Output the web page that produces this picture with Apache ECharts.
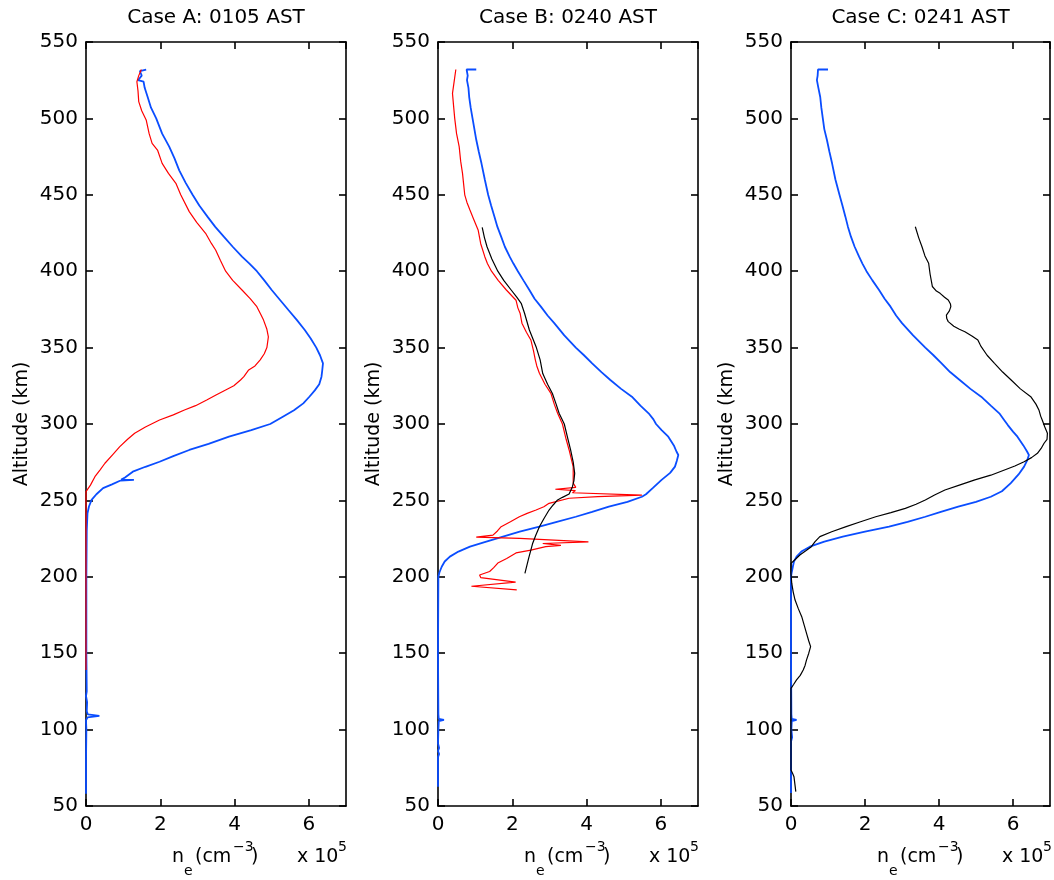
<!DOCTYPE html>
<html>
<head>
<meta charset="utf-8">
<script src="https://cdn.jsdelivr.net/npm/echarts@6/dist/echarts.min.js"></script>
<style>html,body{margin:0;padding:0;background:#fff;}#chart{width:1054px;height:880px;}</style>
</head>
<body>
<div id="chart"></div>
<script>
// ---- data: [altitude km, n_e (x1e5 cm^-3)] ----
const titles = ['Case A: 0105 AST', 'Case B: 0240 AST', 'Case C: 0241 AST'];
const yTicks = [50, 100, 150, 200, 250, 300, 350, 400, 450, 500, 550];
const xTicks = [0, 2, 4, 6];

const caseA_blue = [[532,1.62],[531,1.45],[528,1.5],[525,1.40],[524,1.55],[520,1.58],[514,1.66],[507,1.75],[500,1.89],[490,2.05],[481.5,2.24],[474,2.38],[466,2.51],[458,2.68],[450,2.87],[443,3.05],[435.7,3.27],[429,3.48],[422.6,3.71],[416,3.95],[409.5,4.2],[405,4.4],[400,4.6],[394,4.8],[387.7,5.0],[381,5.23],[374.6,5.45],[368,5.68],[361.5,5.89],[356,6.05],[350,6.2],[345,6.3],[339.7,6.38],[335,6.36],[331,6.34],[326,6.28],[322,6.16],[318,6.02],[313.5,5.85],[309,5.6],[304.8,5.3],[300,4.96],[296,4.45],[291.7,3.85],[287,3.3],[283,2.78],[279,2.35],[275.3,1.98],[272,1.6],[268.8,1.26],[265,1.05],[263.6,0.95],[263.4,1.29],[263,0.93],[260.5,0.7],[258,0.46],[254,0.28],[250.3,0.15],[246,0.08],[241.6,0.04],[230,0.02],[200,0.01],[150,0.01],[125,0.02],[122,0.0],[118,0.03],[112,0.02],[110,0.05],[109,0.36],[108,0.04],[106,0.0],[100,0.01],[80,0.0],[58,0.0]];
const caseA_red = [[532,1.49],[528,1.42],[524,1.37],[518,1.40],[511,1.42],[505,1.5],[499,1.62],[490,1.7],[483.7,1.78],[479,1.93],[470.6,2.05],[464,2.22],[457.5,2.42],[450,2.55],[439,2.78],[432,2.98],[424.8,3.22],[418,3.38],[413.9,3.49],[407,3.62],[400,3.76],[394,3.95],[387.7,4.2],[382,4.42],[376.8,4.6],[372,4.7],[368,4.78],[362,4.87],[357,4.91],[350,4.87],[346,4.8],[342,4.69],[338,4.55],[335.4,4.38],[331,4.25],[328.8,4.16],[325,3.98],[322.3,3.76],[319,3.5],[315.7,3.25],[312,2.95],[309.2,2.65],[306,2.35],[302.6,1.98],[298,1.6],[293.9,1.31],[290,1.12],[285.2,0.91],[280,0.72],[274.3,0.51],[270,0.38],[265.5,0.24],[260,0.12],[255.7,0.0],[250,0.0],[139,0.0]];

const caseB_blue = [[532,1.03],[532,0.77],[528,0.8],[525,0.78],[520,0.82],[514,0.84],[507,0.88],[500,0.93],[493,0.98],[486,1.03],[478,1.1],[470.6,1.17],[460,1.26],[450,1.35],[443,1.43],[435.7,1.52],[429,1.6],[422.6,1.70],[416,1.8],[409.5,1.93],[405,2.03],[400,2.15],[394,2.3],[387.7,2.46],[382,2.6],[376.8,2.77],[371,2.95],[366,3.13],[358,3.4],[350,3.71],[345,3.93],[339.7,4.15],[334,4.4],[328.8,4.64],[323,4.93],[317.9,5.22],[312,5.45],[307,5.67],[303,5.8],[300,5.87],[296,6.02],[291.7,6.2],[286,6.35],[282,6.42],[279.7,6.47],[276,6.43],[272.1,6.38],[268,6.25],[263.4,6.02],[258,5.78],[254,5.6],[252.4,5.49],[249,5.1],[245.9,4.6],[242.5,4.15],[239.3,3.71],[236,3.2],[232.8,2.73],[229.5,2.2],[226.3,1.75],[223,1.3],[219.7,0.86],[216.5,0.55],[213.2,0.32],[210,0.18],[206.6,0.1],[203,0.04],[200,0.01],[150,0.0],[110,0.01],[107,0.02],[106.3,0.16],[105.5,0.02],[100,0.01],[91,0.0],[88,0.03],[86,0.0],[84,0.03],[82,0.0],[62.6,0.0]];
const caseB_red = [[532,0.48],[525,0.44],[516.4,0.39],[508,0.42],[500,0.45],[490,0.5],[481.5,0.57],[472,0.61],[464,0.66],[457,0.69],[450,0.72],[445,0.78],[440,0.86],[434,0.96],[427,1.08],[418,1.15],[409.5,1.26],[405,1.33],[400,1.44],[394,1.62],[387.7,1.84],[381,2.1],[376,2.15],[372.5,2.21],[366,2.26],[360,2.38],[355,2.5],[348,2.57],[342,2.62],[338,2.66],[333.2,2.73],[326,2.88],[320,3.04],[313,3.13],[307,3.22],[300,3.35],[290,3.45],[283,3.53],[272,3.64],[261.3,3.64],[258.5,3.71],[257.3,3.16],[256.4,3.7],[255,3.62],[253.5,5.49],[252.5,4.3],[251.4,3.53],[248.1,2.99],[245.8,2.85],[243.7,2.64],[241.5,2.4],[239.3,2.19],[236,1.95],[232.8,1.7],[230,1.6],[227.3,1.48],[226.0,1.03],[225.2,2.2],[222.9,4.05],[221.8,2.82],[220.6,3.31],[219.8,2.9],[217.5,2.5],[215.6,2.1],[212,1.85],[209,1.61],[206,1.5],[203.5,1.39],[201.2,1.12],[199.5,1.15],[196.5,2.09],[193.8,0.9],[191.4,2.12]];
const caseB_black = [[428.7,1.19],[422,1.25],[416,1.32],[408,1.45],[400,1.61],[394,1.77],[387.7,1.97],[383,2.12],[379,2.24],[372.5,2.33],[361.5,2.46],[350.6,2.64],[342,2.75],[333,2.82],[326,2.95],[320,3.08],[313,3.18],[307,3.26],[300,3.4],[290,3.5],[283,3.57],[275,3.64],[267.7,3.68],[263,3.66],[259,3.62],[254.2,3.53],[252,3.35],[250.3,3.22],[247,3.1],[243.7,2.99],[238,2.85],[232.8,2.73],[227,2.63],[222,2.55],[212,2.44],[202.3,2.34]];

const caseC_blue = [[532,1.0],[532,0.73],[528,0.72],[525,0.70],[520,0.74],[514,0.79],[507,0.82],[500,0.86],[493,0.9],[486,0.97],[478,1.04],[470.6,1.11],[460,1.2],[450,1.31],[443,1.39],[435.7,1.47],[429,1.54],[422.6,1.62],[416,1.72],[409.5,1.84],[405,1.93],[400,2.04],[394,2.2],[387.7,2.38],[382,2.53],[376.8,2.69],[371,2.84],[366,3.0],[358,3.3],[350,3.63],[345,3.85],[339.7,4.07],[334,4.3],[328.8,4.56],[323,4.85],[317.9,5.14],[312,5.4],[307,5.63],[303,5.75],[299.3,5.86],[295,6.0],[291.7,6.12],[286,6.28],[282,6.38],[279.7,6.43],[276,6.38],[272.1,6.3],[267,6.15],[261.3,5.94],[256,5.7],[252.4,5.4],[249,5.0],[245.9,4.52],[242.5,4.05],[239.3,3.63],[236,3.15],[232.8,2.65],[229.5,2.0],[226.3,1.4],[223,0.9],[219.7,0.51],[216.5,0.28],[213.2,0.15],[210,0.08],[206.6,0.05],[203,0.02],[200,0.0],[150,0.0],[110,0.01],[107,0.02],[106.3,0.15],[105.5,0.02],[100,0.01],[95,0.03],[92,0.0],[58.5,0.0]];
const caseC_black = [[429.1,3.36],[422,3.45],[416,3.54],[410,3.62],[405.2,3.72],[398,3.76],[390,3.82],[387,3.93],[385.5,4.03],[383,4.15],[381.2,4.25],[378.5,4.31],[376.8,4.32],[374,4.28],[371.3,4.2],[369,4.21],[367,4.25],[364,4.4],[362,4.55],[360.4,4.7],[357.5,4.9],[355,5.05],[352,5.11],[350.6,5.14],[345,5.3],[339.7,5.5],[334,5.72],[328.8,5.95],[323,6.2],[317.9,6.48],[313,6.62],[309.2,6.7],[305,6.75],[302.6,6.79],[298,6.86],[293.9,6.93],[290,6.92],[287.4,6.84],[284,6.76],[280.8,6.66],[278,6.5],[275.3,6.3],[272.5,6.05],[269.9,5.77],[266.5,5.4],[263.4,4.97],[260,4.55],[256.8,4.16],[253.5,3.88],[250.3,3.63],[247.5,3.38],[244.8,3.09],[242,2.7],[239.3,2.29],[236,1.88],[232.8,1.49],[229.5,1.1],[226.3,0.78],[223,0.65],[219.7,0.55],[217,0.4],[214.3,0.24],[211.5,0.12],[208.8,0.0],[202,0.0],[195.8,0.02],[190,0.06],[184.8,0.11],[179,0.2],[173.9,0.29],[168,0.36],[163,0.42],[158,0.48],[154.3,0.53],[150,0.48],[145.6,0.42],[142,0.38],[139,0.33],[135.5,0.25],[132.5,0.15],[129.5,0.07],[127,0.0],[75,0.0],[73.6,0.0],[71,0.05],[69.2,0.08],[59.4,0.13]];

// ---- layout / style ----
const FONT = 'DejaVu Sans';
const BLUE = '#0a4dff', RED = '#ff0000', BLACK = '#000000';
const panels = [
  { left: 86, width: 260, curves: [[caseA_blue, BLUE, 1.8], [caseA_red, RED, 1.2]] },
  { left: 438, width: 260, curves: [[caseB_blue, BLUE, 1.8], [caseB_red, RED, 1.2], [caseB_black, BLACK, 1.2]] },
  { left: 791, width: 259, curves: [[caseC_blue, BLUE, 1.8], [caseC_black, BLACK, 1.2]] }
];
const TOP = 42, HEIGHT = 764;

const grid = [], xAxis = [], yAxis = [], series = [], graphic = [];
const lineStyle = { color: '#000', width: 1.6 };
panels.forEach((p, i) => {
  grid.push({ left: p.left, top: TOP, width: p.width, height: HEIGHT, containLabel: false });
  const xBase = { type: 'value', gridIndex: i, min: 0, max: 7, interval: 2,
    axisLine: { show: true, onZero: false, lineStyle }, splitLine: { show: false },
    axisTick: { show: true, inside: true, length: 7, lineStyle } };
  xAxis.push(Object.assign({}, xBase, { position: 'bottom',
    axisLabel: { show: true, showMaxLabel: false, margin: 9, fontSize: 20, fontFamily: FONT, color: '#000' } }));
  xAxis.push(Object.assign({}, xBase, { position: 'top', axisLabel: { show: false } }));
  const yBase = { type: 'value', gridIndex: i, min: yTicks[0], max: yTicks[yTicks.length - 1], interval: 50,
    axisLine: { show: true, onZero: false, lineStyle }, splitLine: { show: false },
    axisTick: { show: true, inside: true, length: 7, lineStyle } };
  yAxis.push(Object.assign({}, yBase, { position: 'left',
    axisLabel: { show: true, margin: 8, fontSize: 20, fontFamily: FONT, color: '#000' } }));
  yAxis.push(Object.assign({}, yBase, { position: 'right', axisLabel: { show: false } }));
  p.curves.forEach(([d, color, w]) => {
    series.push({ type: 'line', xAxisIndex: 2 * i, yAxisIndex: 2 * i,
      data: d.map(r => [r[1], r[0]]), symbol: 'none', showSymbol: false,
      lineStyle: { color, width: w }, clip: true, silent: true, z: 3 });
  });
  const cx = p.left + p.width / 2;
  graphic.push({ type: 'text', x: cx, y: 18, style: { text: titles[i], fontSize: 20, fontFamily: FONT,
    fill: '#000', align: 'center', verticalAlign: 'middle' } });
  graphic.push({ type: 'text', x: p.left - 64, y: TOP + HEIGHT / 2, rotation: Math.PI / 2,
    style: { text: 'Altitude (km)', fontSize: 19, fontFamily: FONT, fill: '#000', align: 'center', verticalAlign: 'middle' } });
  // x-axis name: n_e (cm^-3)   x 10^5
  const bx = p.left + 86, by = 857;
  const parts = [
    ['n', 0, 0, 19], ['e', 12, 14, 14], ['(cm', 23, 0, 19], ['\u22123', 61, -10, 14], [')', 79, 0, 19],
    ['x 10', 125, 0, 19], ['5', 166, -10, 14]
  ];
  parts.forEach(([t, dx, dy, fs]) => {
    graphic.push({ type: 'text', x: bx + dx, y: by + dy, style: { text: t, fontSize: fs, fontFamily: FONT,
      fill: '#000', align: 'left', verticalAlign: 'middle' } });
  });
});

const chart = echarts.init(document.getElementById('chart'), null, { renderer: 'canvas' });
chart.setOption({ animation: false, backgroundColor: '#fff', grid, xAxis, yAxis, series, graphic });
</script>
</body>
</html>
